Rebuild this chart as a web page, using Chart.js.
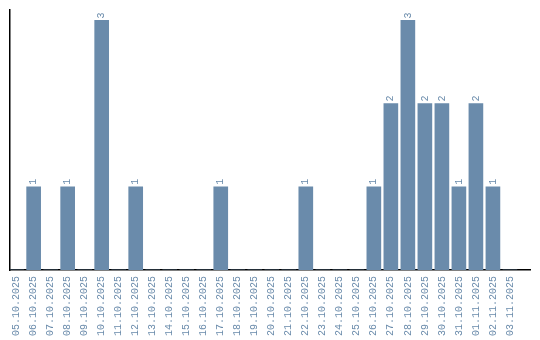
<!DOCTYPE html>
<html>
<head>
<meta charset="utf-8">
<script src="https://cdn.jsdelivr.net/npm/chart.js@4/dist/chart.umd.min.js"></script>
<style>
  html, body { margin: 0; padding: 0; background: #fff; }
  #wrap { width: 540px; height: 340px; }
</style>
</head>
<body>
<div id="wrap"><canvas id="c" width="540" height="340"></canvas></div>
<script>
const categories = ["05.10.2025","06.10.2025","07.10.2025","08.10.2025","09.10.2025","10.10.2025","11.10.2025","12.10.2025","13.10.2025","14.10.2025","15.10.2025","16.10.2025","17.10.2025","18.10.2025","19.10.2025","20.10.2025","21.10.2025","22.10.2025","23.10.2025","24.10.2025","25.10.2025","26.10.2025","27.10.2025","28.10.2025","29.10.2025","30.10.2025","31.10.2025","01.11.2025","02.11.2025","03.11.2025"];
const counts = [0,1,0,1,0,3,0,1,0,0,0,0,1,0,0,0,0,1,0,0,0,1,2,3,2,2,1,2,1,0];

const barColor = '#6a8bab';
const textColor = '#6a8bab';
const fontFamily = '"Liberation Mono", "DejaVu Sans Mono", monospace';

const valueLabels = {
  id: 'valueLabels',
  afterDatasetsDraw(chart) {
    const ctx = chart.ctx;
    const meta = chart.getDatasetMeta(0);
    ctx.save();
    ctx.fillStyle = textColor;
    ctx.font = '10px ' + fontFamily;
    meta.data.forEach((bar, i) => {
      const v = counts[i];
      if (!v) return;
      ctx.save();
      ctx.translate(bar.x, bar.y - 2);
      ctx.rotate(-Math.PI / 2);
      ctx.textAlign = 'left';
      ctx.textBaseline = 'middle';
      ctx.fillText(String(v), 0, 0);
      ctx.restore();
    });
    ctx.restore();
  }
};

new Chart(document.getElementById('c'), {
  type: 'bar',
  data: {
    datasets: [{
      data: counts.map((v, i) => ({ x: i, y: v })),
      backgroundColor: barColor,
      borderWidth: 0,
      barThickness: 14
    }]
  },
  options: {
    responsive: false,
    animation: false,
    devicePixelRatio: 1,
    layout: { padding: { top: 10, right: 10, left: 0, bottom: 0 } },
    plugins: { legend: { display: false }, tooltip: { enabled: false } },
    scales: {
      x: {
        type: 'linear',
        min: -0.39,
        max: 30.18,
        offset: false,
        grid: { display: false, drawTicks: false },
        border: { display: true, color: '#000', width: 1.5 },
        afterBuildTicks(scale) {
          scale.ticks = categories.map((_, i) => ({ value: i }));
        },
        afterFit(scale) { scale.height = 70; },
        ticks: {
          autoSkip: false,
          minRotation: 90,
          maxRotation: 90,
          padding: 6,
          color: textColor,
          font: { family: fontFamily, size: 10 },
          callback: (v) => categories[v] ?? ''
        }
      },
      y: {
        min: 0,
        max: 3.125,
        grid: { display: false, drawTicks: false },
        border: { display: true, color: '#000', width: 1.5 },
        ticks: { display: false },
        afterFit(scale) { scale.width = 10; }
      }
    }
  },
  plugins: [valueLabels]
});
</script>
</body>
</html>
